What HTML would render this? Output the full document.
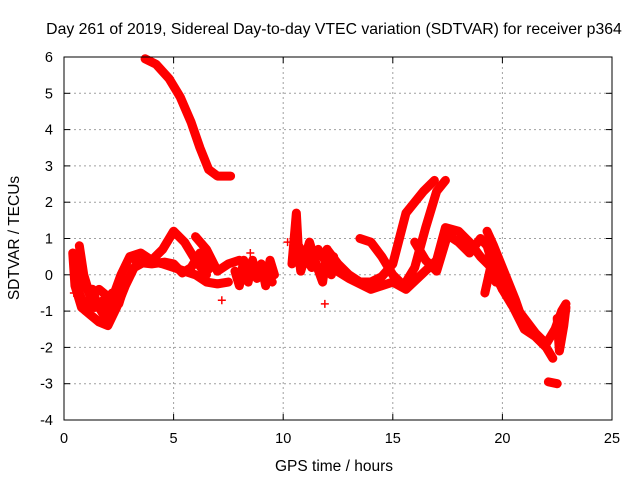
<!DOCTYPE html>
<html><head><meta charset="utf-8"><style>
body{margin:0;background:#fff}
svg{display:block;font-family:"Liberation Sans",sans-serif}
</style></head><body>
<svg id="chart" width="640" height="480">
<text x="334" y="34" font-size="15.8" text-anchor="middle">Day 261 of 2019, Sidereal Day-to-day VTEC variation (SDTVAR) for receiver p364</text>
<text x="334" y="471" font-size="15.5" text-anchor="middle">GPS time / hours</text>
<text transform="translate(19,238) rotate(-90)" font-size="15.5" text-anchor="middle">SDTVAR / TECUs</text>
<g id="grid"></g><g id="marks"></g>
<rect x="64" y="57" width="548" height="363" fill="none" stroke="#000" stroke-width="1"/>
</svg>
<script>
const xTicks=[0,5,10,15,20,25];
const yTicks=[-4,-3,-2,-1,0,1,2,3,4,5,6];
const trackA=[[3.7,5.95],[4.2,5.8],[4.8,5.4],[5.3,4.9],[5.8,4.2],[6.2,3.5],[6.6,2.9],[7.0,2.72],[7.6,2.72]];
const trackB=[[0.4,0.6],[0.5,-0.3],[0.8,-0.9],[1.2,-1.1],[1.6,-1.3],[2.0,-1.4],[2.4,-0.9],[2.8,-0.3],[3.2,0.2],[3.8,0.4],[4.5,0.3],[5.0,0.2],[5.5,0.1],[6.0,0.0],[6.5,-0.2],[7.0,-0.25],[7.5,-0.2]];
const trackC=[[0.7,0.8],[0.9,0.0],[1.2,-0.6],[1.6,-0.4],[2.0,-0.6],[2.3,-0.5],[2.6,0.0],[3.0,0.5],[3.5,0.6],[4.0,0.4],[4.5,0.7],[5.0,1.2],[5.5,0.9],[6.0,0.4],[6.5,0.0]];
const trackC2=[[3.3,0.35],[4.0,0.3],[4.6,0.35],[5.0,0.3],[5.4,0.05],[5.8,0.2],[6.2,0.6],[6.6,0.15]];
const trackD=[[6.0,1.05],[6.5,0.7],[7.0,0.1],[7.5,0.3],[8.0,0.4]];
const trackE=[[1.0,-0.3],[1.4,-0.9],[1.8,-0.7],[2.0,-1.1],[2.2,-0.5],[2.5,-0.8],[2.8,-0.2]];
const trackE2=[[0.5,0.4],[0.7,-0.5],[1.0,-1.0],[1.3,-0.4],[1.5,-0.8],[1.9,-1.2]];
const trackN1=[[7.8,0.1],[8.0,-0.3],[8.2,0.4],[8.4,-0.2],[8.6,0.4],[8.8,-0.1],[9.0,0.3],[9.2,-0.3],[9.4,0.4],[9.6,0.0]];
const trackN1b=[[7.9,-0.1],[8.3,0.2],[8.7,0.1],[9.1,0.2],[9.5,-0.2]];
const trackN2=[[10.4,0.3],[10.6,1.7],[10.7,0.6],[10.8,0.1],[11.0,0.5],[11.2,0.9],[11.5,0.3],[11.8,-0.2],[12.0,0.7],[12.2,0.0]];
const trackN2b=[[10.6,0.9],[10.9,0.6],[11.3,0.2],[11.6,0.7],[11.9,0.4],[12.3,0.5]];
const trackF=[[12.0,0.7],[12.5,0.3],[13.0,0.0],[13.5,-0.2],[14.0,-0.2],[14.5,-0.05],[15.0,0.3],[15.3,1.0],[15.6,1.7],[16.0,2.0],[16.4,2.3],[16.9,2.6]];
const trackG=[[13.5,1.0],[14.0,0.9],[14.5,0.5],[15.0,0.0],[15.5,-0.3],[16.0,0.2],[16.5,1.3],[17.0,2.3],[17.4,2.6]];
const trackH=[[12.2,0.2],[13.0,-0.1],[14.0,-0.4],[15.0,-0.2],[15.6,-0.4],[16.3,0.0],[17.0,0.4],[17.4,1.3],[18.0,1.2],[18.5,0.9],[19.0,0.5],[19.5,0.2],[20.0,-0.4],[20.5,-0.8],[21.0,-1.2],[21.5,-1.6],[22.0,-1.9],[22.4,-1.5],[22.7,-1.0],[22.9,-0.8]];
const trackI=[[16.0,0.9],[16.5,0.4],[17.0,0.1],[17.5,1.1],[18.0,0.9],[18.5,0.6],[19.0,1.0],[19.3,0.8],[19.6,0.2],[20.0,-0.4],[20.5,-0.9],[21.0,-1.5],[21.5,-1.7],[22.0,-2.0],[22.3,-2.3]];
const trackJ=[[19.3,1.2],[19.6,0.8],[20.0,0.2],[20.6,-0.7],[21.0,-1.4]];
const trackK=[[19.2,-0.5],[19.5,0.3],[19.7,-0.2]];
const trackL=[[22.1,-2.95],[22.5,-3.0]];
const trackM=[[22.5,-1.2],[22.6,-2.1],[22.8,-1.4],[22.9,-0.9]];
const strays=[[7.2,-0.7],[11.9,-0.8],[10.2,0.9],[8.5,0.6],[0.45,-0.5]];
const tracks=[trackA,trackB,trackC,trackC2,trackD,trackE,trackE2,trackN1,trackN1b,trackN2,trackN2b,trackF,trackG,trackH,trackI,trackJ,trackK,trackL,trackM];

const NS="http://www.w3.org/2000/svg";
const X0=64,X1=612,Y0=420,Y1=57,xmin=0,xmax=25,ymin=-4,ymax=6;
function sx(t){return X0+(t-xmin)/(xmax-xmin)*(X1-X0);}
function sy(v){return Y0-(v-ymin)/(ymax-ymin)*(Y0-Y1);}
const grid=document.getElementById('grid'),marks=document.getElementById('marks');
function mk(tag,attrs,parent){const e=document.createElementNS(NS,tag);for(const k in attrs)e.setAttribute(k,attrs[k]);parent.appendChild(e);return e;}
xTicks.forEach(t=>{
  const x=sx(t);
  if(t>xmin&&t<xmax){const g=mk('line',{x1:x,x2:x,y1:Y1,y2:Y0,stroke:'#a0a0a0','stroke-dasharray':'2,3'},grid);
  
  }
  mk('line',{x1:x,x2:x,y1:Y0,y2:Y0-6,stroke:'#000'},grid);
  mk('line',{x1:x,x2:x,y1:Y1,y2:Y1+6,stroke:'#000'},grid);
  const l=mk('text',{x:x,y:Y0+23,'font-size':14.5,'text-anchor':'middle'},grid);l.textContent=t;
  
  
});
yTicks.forEach(v=>{
  const y=sy(v);
  if(v>ymin&&v<ymax){const g=mk('line',{x1:X0,x2:X1,y1:y,y2:y,stroke:'#a0a0a0','stroke-dasharray':'2,3'},grid);
  
  }
  mk('line',{x1:X0,x2:X0+6,y1:y,y2:y,stroke:'#000'},grid);
  mk('line',{x1:X1,x2:X1-6,y1:y,y2:y,stroke:'#000'},grid);
  const l=mk('text',{x:X0-11,y:y+5,'font-size':14.5,'text-anchor':'end'},grid);l.textContent=v;
  
  
});
function plus(t,v){
  const x=sx(t),y=sy(v);
  const p=mk('path',{d:`M${x-4},${y}H${x+4}M${x},${y-4}V${y+4}`,stroke:'#f00','stroke-width':1.5},marks);
  
  
}
tracks.forEach(tr=>{
  const pl=mk('polyline',{points:tr.map(p=>sx(p[0])+','+sy(p[1])).join(' '),fill:'none',stroke:'#f00','stroke-width':9,'stroke-linejoin':'round','stroke-linecap':'round'},marks);
  
  
  tr.forEach(p=>plus(p[0],p[1]));
});
strays.forEach(p=>plus(p[0],p[1]));
</script>
</body></html>
